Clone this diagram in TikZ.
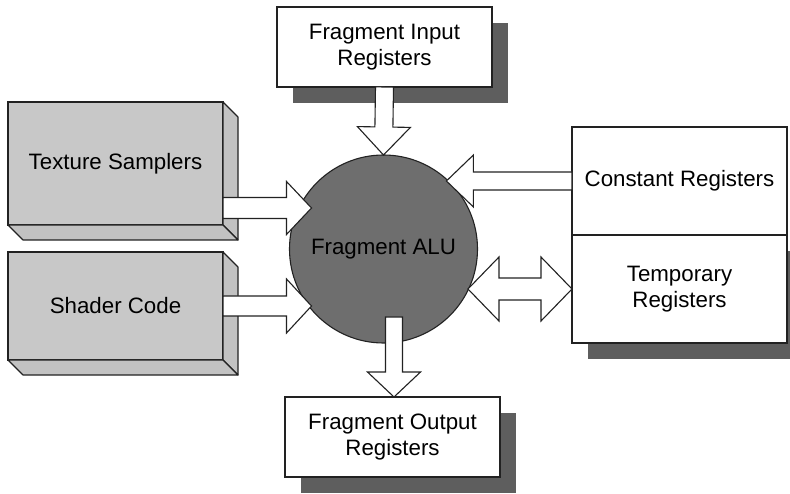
\documentclass[tikz,border=0pt]{standalone}
\usepackage{fontspec}
\setmainfont{Liberation Sans}
\usetikzlibrary{calc,shadows}
\definecolor{linec}{HTML}{222222}
\definecolor{boxgray}{HTML}{C8C8C8}
\definecolor{sidegray}{HTML}{C2C2C2}
\definecolor{alugray}{HTML}{6E6E6E}
\definecolor{shadowgray}{HTML}{5E5E5E}
\tikzset{
  box/.style={draw=linec, line width=1.1pt, minimum width=215pt, inner sep=0pt,
    outer sep=0pt, align=center, font=\fontsize{22.3}{26.5}\selectfont},
  graybox/.style={box, fill=boxgray},
  whitebox/.style={box, fill=white},
  shadowed/.style={drop shadow={shadow xshift=16pt, shadow yshift=-16pt,
    fill=shadowgray, opacity=1}},
  alunode/.style={circle, draw=linec, line width=1.1pt, fill=alugray,
    minimum size=188pt, inner sep=0pt, outer sep=0pt,
    font=\fontsize{22.3}{26.5}\selectfont},
  sideface/.style={draw=linec, fill=sidegray, line width=1.1pt, line join=round},
  barrow/.style={draw=linec, fill=white, line width=1.1pt, line join=miter}
}
% #1 start, #2 end, #3 shaft half width, #4 head half width, #5 head length
\newcommand\blockarrow[5]{%
  \path let \p1=#1, \p2=#2, \n1={atan2(\y2-\y1,\x2-\x1)},
    \n2={veclen(\x2-\x1,\y2-\y1)} in \pgfextra{\xdef\barang{\n1}\xdef\barlen{\n2}};
  \draw[barrow, shift={#1}, rotate=\barang]
    (0,{-#3}) -- ({\barlen-#5},{-#3}) -- ({\barlen-#5},{-#4}) -- ({\barlen},0)
    -- ({\barlen-#5},{#4}) -- ({\barlen-#5},{#3}) -- (0,{#3}) -- cycle;}
\newcommand\doublearrow[5]{%
  \path let \p1=#1, \p2=#2, \n1={atan2(\y2-\y1,\x2-\x1)},
    \n2={veclen(\x2-\x1,\y2-\y1)} in \pgfextra{\xdef\barang{\n1}\xdef\barlen{\n2}};
  \draw[barrow, shift={#1}, rotate=\barang]
    (0,0) -- (#5,{-#4}) -- (#5,{-#3}) -- ({\barlen-#5},{-#3}) -- ({\barlen-#5},{-#4})
    -- ({\barlen},0) -- ({\barlen-#5},{#4}) -- ({\barlen-#5},{#3}) -- (#5,{#3})
    -- (#5,{#4}) -- cycle;}
\begin{document}
\begin{tikzpicture}[x=1pt,y=-1pt]
\clip (0,0) rectangle (790,494);
\fill[white] (0,0) rectangle (790,494);

% boxes
\node[whitebox, shadowed, minimum height=80pt] (in) at (384.5,47) {Fragment Input\\Registers};
\node[graybox, minimum height=123pt] (tex) at (115.5,163.5) {Texture Samplers};
\node[graybox, minimum height=108pt] (sh) at (115.5,306) {Shader Code};
\node[whitebox, minimum height=108pt] (const) at (679.5,181) {Constant Registers};
\node[whitebox, shadowed, minimum height=108pt] (temp) at (679.5,289) {Temporary\\Registers};
\node[whitebox, shadowed, minimum height=80pt] (out) at (392.5,437) {Fragment Output\\Registers};

% 3D sides of the gray boxes
\foreach \b in {tex,sh}{
  \draw[sideface] (\b.north east) -- ++(15,15) -- ($(\b.south east)+(15,15)$)
    -- (\b.south east) -- cycle;
  \draw[sideface] (\b.south west) -- ++(15,15) -- ($(\b.south east)+(15,15)$)
    -- (\b.south east) -- cycle;
}

% ALU
\node[alunode] (alu) at (383.5,249) {Fragment ALU};

% arrow end points
\coordinate (texS) at ($(tex.south east)+(0,-17)$);
\coordinate (texE) at ($(texS -| alu.west)+(22,0)$);
\coordinate (shS) at (sh.east);
\coordinate (shE) at ($(shS -| alu.west)+(22,0)$);
\coordinate (constE) at (const.west -| alu.48);
\coordinate (tempE) at (temp.west -| alu.-26);
\coordinate (outS) at ($(out.north |- alu.south)+(1.5,-26)$);
\coordinate (outE) at ($(out.north)+(1.5,0)$);

% arrows
\blockarrow{(in.south)}{(alu.north)}{9}{26.5}{28}
\blockarrow{(texS)}{(texE)}{10.5}{26.5}{25}
\blockarrow{(shS)}{(shE)}{10}{27}{25}
\blockarrow{(const.west)}{(constE)}{9}{26}{27}
\doublearrow{(tempE)}{(temp.west)}{11}{32}{31}
\blockarrow{(outS)}{(outE)}{8.5}{26.5}{25}
\end{tikzpicture}
\end{document}
